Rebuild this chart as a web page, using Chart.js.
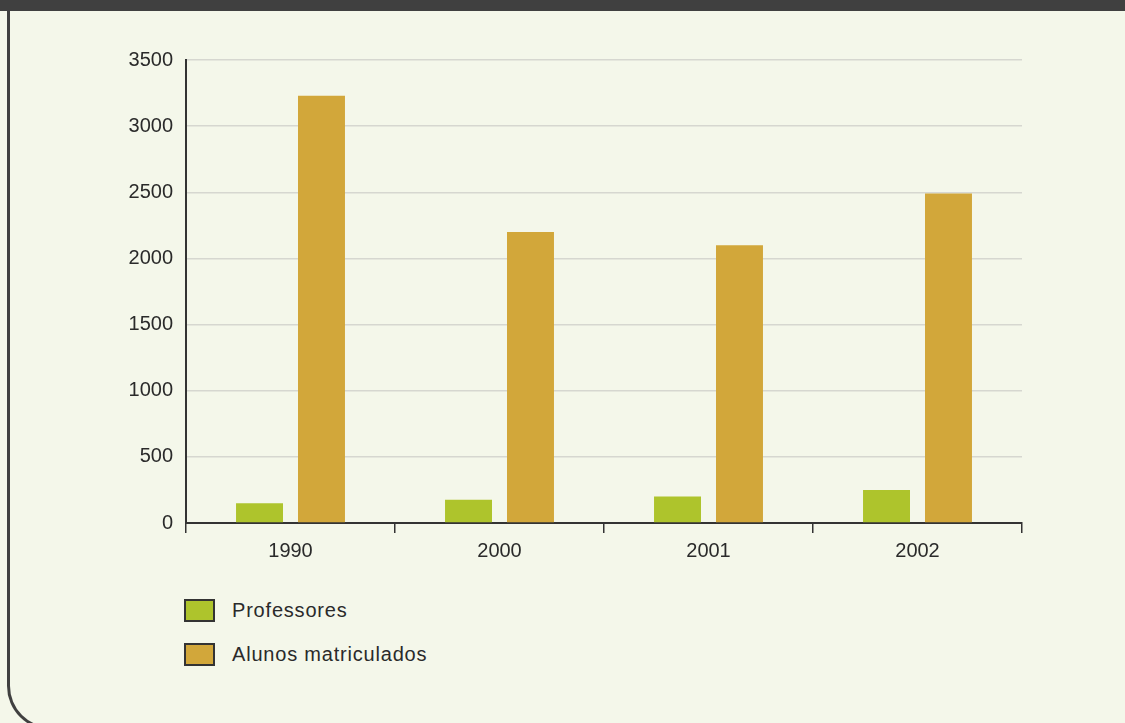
<!DOCTYPE html>
<html lang="pt">
<head>
<meta charset="utf-8">
<title>Professores e alunos matriculados</title>
<script src="https://cdn.jsdelivr.net/npm/chart.js@4.4.1/dist/chart.umd.min.js"></script>
<style>
    html, body { margin: 0; padding: 0; }
    body {
        width: 1125px;
        height: 723px;
        overflow: hidden;
        position: relative;
        background: #f4f7ea;
        font-family: "Liberation Sans", Arial, sans-serif;
    }
    .header {
        position: absolute;
        left: 0; top: 0;
        width: 1125px; height: 11px;
        background: #404040;
    }
    .panel {
        position: absolute;
        left: 7px; top: 11px;
        width: 1200px; height: 716px;
        background: #f4f7ea;
        border-left: 3px solid #404040;
        border-bottom: 3px solid #404040;
        border-bottom-left-radius: 44px;
    }
    .chart-box {
        position: absolute;
        left: 0; top: 0;
        width: 1125px; height: 580px;
    }
    #legend {
        position: absolute;
        left: 184px; top: 599px;
    }
    .legend-item {
        display: flex;
        align-items: center;
        height: 23px;
        margin-bottom: 21px;
        font-size: 20px;
        letter-spacing: 0.8px;
        color: #2a2a2a;
    }
    .legend-swatch {
        width: 27px;
        height: 19px;
        border: 2px solid #333333;
        margin-right: 17px;
    }
</style>
</head>
<body>
<div class="header"></div>
<div class="panel"></div>
<div class="chart-box"><canvas id="chart"></canvas></div>
<div id="legend"></div>

<script>
const years = ['1990', '2000', '2001', '2002'];
const professores = [150, 175, 200, 250];
const alunosMatriculados = [3230, 2200, 2100, 2490];
const yTicks = [0, 500, 1000, 1500, 2000, 2500, 3000, 3500];

const green = '#aec42c';
const gold = '#d2a73a';
const textColor = '#2a2a2a';
const axisColor = '#333333';
const tickFont = { family: '"Liberation Sans", Arial, sans-serif', size: 20 };

const chart = new Chart(document.getElementById('chart').getContext('2d'), {
    type: 'bar',
    data: {
        labels: years,
        datasets: [
            {
                label: 'Professores',
                data: professores,
                backgroundColor: green,
                categoryPercentage: 0.593,
                barPercentage: 0.758
            },
            {
                label: 'Alunos matriculados',
                data: alunosMatriculados,
                backgroundColor: gold,
                categoryPercentage: 0.593,
                barPercentage: 0.758
            }
        ]
    },
    options: {
        responsive: true,
        maintainAspectRatio: false,
        animation: false,
        layout: { padding: { left: 0, right: 103, top: 60, bottom: 0 } },
        plugins: {
            legend: { display: false },
            tooltip: { enabled: false }
        },
        scales: {
            x: {
                grid: {
                    offset: true,
                    drawOnChartArea: false,
                    drawTicks: true,
                    tickLength: 10,
                    color: axisColor,
                    lineWidth: 1.5
                },
                border: { color: axisColor, width: 2 },
                ticks: { color: textColor, padding: 6, font: tickFont },
                afterFit: (scale) => { scale.height = 57; }
            },
            y: {
                min: 0,
                max: yTicks[yTicks.length - 1],
                afterBuildTicks: (scale) => {
                    scale.ticks = yTicks.map(v => ({ value: v }));
                },
                grid: {
                    drawTicks: false,
                    color: '#d6d7d0',
                    lineWidth: 1.5
                },
                border: { color: axisColor, width: 2 },
                ticks: {
                    color: textColor,
                    padding: 13,
                    font: tickFont,
                    callback: (v) => String(v)
                },
                afterFit: (scale) => { scale.width = 186; }
            }
        }
    }
});

// legend as a vertical list, built from the chart's datasets
const legendEl = document.getElementById('legend');
chart.data.datasets.forEach(ds => {
    const item = document.createElement('div');
    item.className = 'legend-item';
    const swatch = document.createElement('span');
    swatch.className = 'legend-swatch';
    swatch.style.background = ds.backgroundColor;
    const label = document.createElement('span');
    label.textContent = ds.label;
    item.appendChild(swatch);
    item.appendChild(label);
    legendEl.appendChild(item);
});
</script>
</body>
</html>
